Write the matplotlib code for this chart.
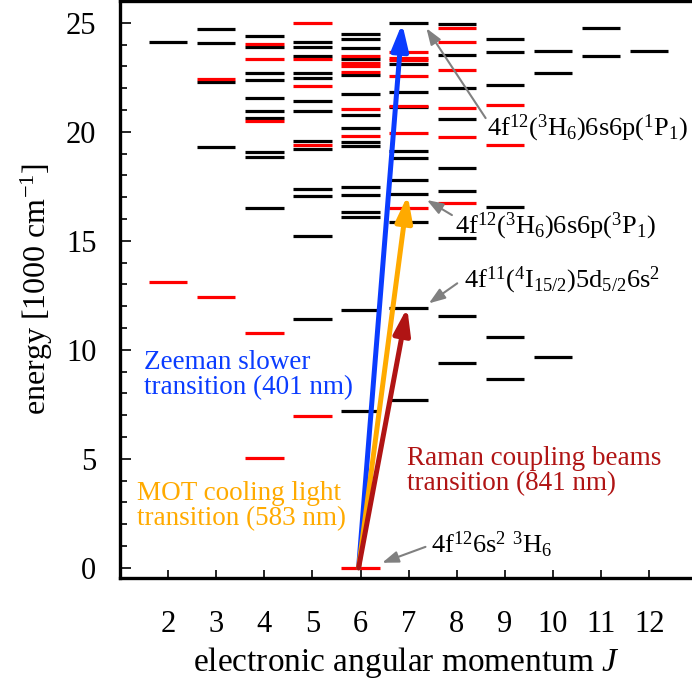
import matplotlib
matplotlib.use("Agg")
import matplotlib.pyplot as plt
from matplotlib.ticker import MultipleLocator

plt.rcParams['font.family'] = ['Liberation Serif', 'DejaVu Serif']
plt.rcParams['mathtext.fontset'] = 'custom'
plt.rcParams['mathtext.rm'] = 'Liberation Serif'
plt.rcParams['mathtext.it'] = 'Liberation Serif:italic'

# Energy levels (1000 cm^-1) per J, black = even parity, red = odd parity
even_levels = {
    2: [24.10],
    3: [24.73, 24.08, 22.28, 19.30],
    4: [24.38, 23.89, 22.68, 22.37, 21.56, 20.95, 20.64, 19.07, 18.84, 16.50],
    5: [24.11, 23.89, 23.47, 22.71, 22.46, 21.42, 20.94, 19.57, 19.21, 17.37,
        17.05, 15.20, 11.42],
    6: [24.50, 24.27, 23.86, 23.32, 22.61, 21.72, 20.75, 20.19, 19.53, 19.34,
        17.48, 17.10, 16.33, 16.10, 11.82, 7.19],
    7: [24.97, 23.10, 21.81, 21.13, 19.13, 18.79, 17.80, 17.17, 15.84, 11.93, 7.72],
    8: [24.93, 23.52, 21.99, 20.58, 18.35, 17.30, 15.11, 11.56, 9.38],
    9: [24.25, 23.64, 22.13, 16.53, 10.60, 8.66],
    10: [23.72, 22.71, 9.68],
    11: [24.77, 23.49],
    12: [23.73],
}
odd_levels = {
    2: [13.12],
    3: [22.40, 12.40],
    4: [24.04, 23.32, 20.50, 10.77, 5.05],
    5: [25.01, 23.34, 22.10, 19.38, 6.97],
    6: [23.47, 23.17, 23.00, 22.74, 21.06, 19.83, 0.0],
    7: [23.64, 23.40, 23.28, 22.55, 21.19, 19.93, 16.49],
    8: [24.74, 24.13, 22.83, 21.07, 19.75, 16.74],
    9: [21.22, 19.39],
}

# transitions: start (J, E) -> end (J, E)
ground = (5.96, 0.0)
trans_ends = [(6.865, 24.97), (6.98, 17.09), (6.97, 11.93)]
trans_colors = ['#0a3cff', '#ffaa00', '#b01414']

state_labels = [
    r'4f$^{12}$($^{3}$H$_{6}$)6s6p($^{1}$P$_{1}$)',
    r'4f$^{12}$($^{3}$H$_{6}$)6s6p($^{3}$P$_{1}$)',
    r'4f$^{11}$($^{4}$I$_{15/2}$)5d$_{5/2}$6s$^{2}$',
    r'4f$^{12}$6s$^{2}$ $^{3}$H$_{6}$',
]
label_pos = [(8.62, 20.15), (7.97, 15.67), (8.15, 13.2), (7.47, 1.04)]
label_arrow_tail = [(8.60, 20.63), (7.90, 16.18), (8.01, 13.05), (7.35, 0.96)]
label_arrow_tip = [(7.37, 24.75), (7.38, 16.87), (7.42, 12.13), (6.45, 0.23)]

fig = plt.figure(figsize=(6.92, 6.79), dpi=100)
ax = fig.add_axes([0.1734, 0.1487, 0.8266, 0.8498])

half = 0.4
for J, energies in even_levels.items():
    ax.hlines(energies, J - half, J + half, colors='black', lw=2.3, zorder=2)
for J, energies in odd_levels.items():
    ax.hlines(energies, J - half, J + half, colors='#ff0000', lw=2.3, zorder=2)

# laser transitions
for end, col in zip(trans_ends, trans_colors):
    ax.annotate('', xy=end, xytext=ground,
                arrowprops=dict(arrowstyle='-|>,head_length=0.78,head_width=0.25',
                                mutation_scale=20, lw=3.6, color=col,
                                shrinkA=0, shrinkB=0), zorder=4)

# state labels with grey pointers
for txt, pos, tail, tip in zip(state_labels, label_pos, label_arrow_tail, label_arrow_tip):
    ax.text(pos[0], pos[1], txt, fontsize=19, ha='left', va='center', zorder=5)
    ax.annotate('', xy=tip, xytext=tail,
                arrowprops=dict(arrowstyle='-|>,head_length=0.7,head_width=0.25',
                                mutation_scale=14, lw=1.5, color='#808080',
                                shrinkA=0, shrinkB=0), zorder=5)

ax.text(1.49, 8.84, 'Zeeman slower\ntransition (401 nm)', color=trans_colors[0],
        fontsize=19.5, ha='left', va='center', linespacing=1.0)
ax.text(1.36, 2.83, 'MOT cooling light\ntransition (583 nm)', color=trans_colors[1],
        fontsize=19.5, ha='left', va='center', linespacing=1.0)
ax.text(6.97, 4.44, 'Raman coupling beams\ntransition (841 nm)', color=trans_colors[2],
        fontsize=19.5, ha='left', va='center', linespacing=1.0)

ax.set_xlim(1, 12.89)
ax.set_ylim(-0.47, 26.0)
ax.set_xticks(range(2, 13))
ax.yaxis.set_major_locator(MultipleLocator(5))
ax.yaxis.set_minor_locator(MultipleLocator(1))
ax.tick_params(axis='both', which='both', direction='in', labelsize=22, width=1.2)
ax.tick_params(axis='y', which='major', length=8, pad=17)
ax.tick_params(axis='y', which='minor', length=5)
ax.tick_params(axis='x', which='major', length=6, pad=23)
for side in ['left', 'bottom', 'top']:
    ax.spines[side].set_linewidth(2.4)
ax.spines['right'].set_visible(False)

ax.set_xlabel(r'electronic angular momentum $\mathit{J}$', fontsize=24, labelpad=4)
ax.set_ylabel(r'energy [1000 cm$^{-1}$]', fontsize=23, labelpad=8)

fig.savefig('out.png', dpi=100)
